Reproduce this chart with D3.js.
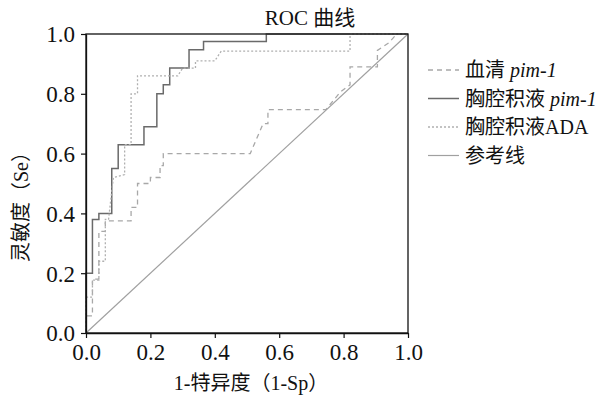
<!DOCTYPE html>
<html>
<head>
<meta charset="utf-8">
<script src="https://cdn.jsdelivr.net/npm/d3@7"></script>
<style>
  body { margin: 0; background: #fff; }
  svg { display: block; font-family: "Liberation Serif", "Noto Sans CJK SC", serif; }
</style>
</head>
<body>
<svg width="615" height="398"></svg>
<script>
// ROC points: [1-Sp, Se]
const serum_pim1 = [[0,0],[0,0.057],[0.02,0.057],[0.02,0.18],[0.04,0.18],[0.04,0.34],[0.06,0.34],[0.06,0.375],
  [0.14,0.375],[0.14,0.42],[0.16,0.42],[0.16,0.50],[0.20,0.50],[0.20,0.52],[0.23,0.52],[0.23,0.56],[0.24,0.56],
  [0.24,0.60],[0.51,0.60],[0.53,0.65],[0.55,0.70],[0.565,0.70],[0.565,0.747],[0.745,0.747],[0.77,0.78],
  [0.79,0.806],[0.82,0.83],[0.82,0.89],[0.905,0.89],[0.905,0.945],[0.94,0.97],[0.965,1],[1,1]];
const pleural_pim1 = [[0,0],[0,0.20],[0.02,0.20],[0.02,0.38],[0.04,0.38],[0.04,0.40],[0.08,0.40],[0.08,0.55],
  [0.10,0.55],[0.10,0.63],[0.18,0.63],[0.18,0.69],[0.22,0.69],[0.22,0.80],[0.24,0.80],[0.24,0.83],[0.26,0.83],
  [0.26,0.886],[0.32,0.886],[0.32,0.947],[0.365,0.947],[0.365,0.975],[0.56,0.975],[0.56,1],[1,1]];
const pleural_ada = [[0,0],[0,0.12],[0.02,0.12],[0.02,0.177],[0.04,0.177],[0.04,0.24],[0.06,0.24],[0.06,0.38],
  [0.07,0.38],[0.085,0.52],[0.12,0.53],[0.12,0.63],[0.14,0.63],[0.14,0.80],[0.16,0.80],[0.16,0.86],
  [0.285,0.86],[0.30,0.886],[0.34,0.886],[0.34,0.91],[0.40,0.91],[0.42,0.943],[0.82,0.943],[0.82,1],[1,1]];
const reference_line = [[0,0],[1,1]];

const ticks = [0, 0.2, 0.4, 0.6, 0.8, 1.0];
const legend_labels = [["血清 ", "pim-1"], ["胸腔积液 ", "pim-1"], ["胸腔积液ADA", ""], ["参考线", ""]];

const series = [
  { data: serum_pim1, stroke: "#a8a8a8", dash: "5,4", width: 1.3 },
  { data: pleural_pim1, stroke: "#6a6a6a", dash: null, width: 1.5 },
  { data: pleural_ada, stroke: "#b0b0b0", dash: "2,2", width: 1.3 },
  { data: reference_line, stroke: "#a0a0a0", dash: null, width: 1.2 }
];

const svg = d3.select("svg");
const x = d3.scaleLinear([0, 1], [86, 408]);
const y = d3.scaleLinear([0, 1], [333, 34]);

const line = d3.line().x(d => x(d[0])).y(d => y(d[1]));

// curves
svg.append("g")
  .selectAll("path")
  .data(series)
  .join("path")
    .attr("fill", "none")
    .attr("stroke", d => d.stroke)
    .attr("stroke-width", d => d.width)
    .attr("stroke-dasharray", d => d.dash)
    .attr("d", d => line(d.data));

// frame
svg.append("rect")
  .attr("x", x(0)).attr("y", y(1))
  .attr("width", x(1) - x(0)).attr("height", y(0) - y(1))
  .attr("fill", "none").attr("stroke", "#111").attr("stroke-width", 1.3);

const xAxis = svg.append("g")
  .attr("transform", `translate(0,${y(0)})`)
  .call(d3.axisBottom(x).tickValues(ticks).tickFormat(d3.format(".1f")).tickSize(5).tickSizeOuter(0));
const yAxis = svg.append("g")
  .attr("transform", `translate(${x(0)},0)`)
  .call(d3.axisLeft(y).tickValues(ticks).tickFormat(d3.format(".1f")).tickSize(5).tickSizeOuter(0));
[xAxis, yAxis].forEach(g => {
  g.select(".domain").attr("stroke", "#111").attr("stroke-width", 1.3);
  g.selectAll(".tick line").attr("stroke", "#111").attr("stroke-width", 1.2);
  g.selectAll("text").attr("font-size", 23).attr("fill", "#111").attr("font-family", "Liberation Serif");
});
xAxis.selectAll("text").attr("dy", null).attr("y", 27);
yAxis.selectAll("text").attr("x", -11).attr("dy", "0.34em");

// titles
svg.append("text")
  .attr("x", 310).attr("y", 25)
  .attr("text-anchor", "middle").attr("font-size", 21).attr("fill", "#111")
  .text("ROC 曲线");
svg.append("text")
  .attr("x", 251).attr("y", 390)
  .attr("text-anchor", "middle").attr("font-size", 20).attr("fill", "#111")
  .text("1-特异度（1-Sp）");
svg.append("text")
  .attr("transform", "translate(28,202) rotate(-90)")
  .attr("text-anchor", "middle").attr("font-size", 20).attr("fill", "#111")
  .text("灵敏度（Se）");

// legend
const legend = svg.append("g")
  .selectAll("g")
  .data(series)
  .join("g")
    .attr("transform", (d, i) => `translate(428,${70 + i * 28.5})`);
legend.append("line")
  .attr("x1", 0).attr("x2", 31).attr("y1", 0).attr("y2", 0)
  .attr("stroke", d => d.stroke)
  .attr("stroke-width", d => d.width)
  .attr("stroke-dasharray", d => d.dash);
const ltext = legend.append("text")
  .attr("x", 37).attr("y", 7)
  .attr("font-size", 20).attr("fill", "#111");
ltext.append("tspan").text((d, i) => legend_labels[i][0]);
ltext.append("tspan").attr("font-style", "italic").text((d, i) => legend_labels[i][1]);
</script>
</body>
</html>
